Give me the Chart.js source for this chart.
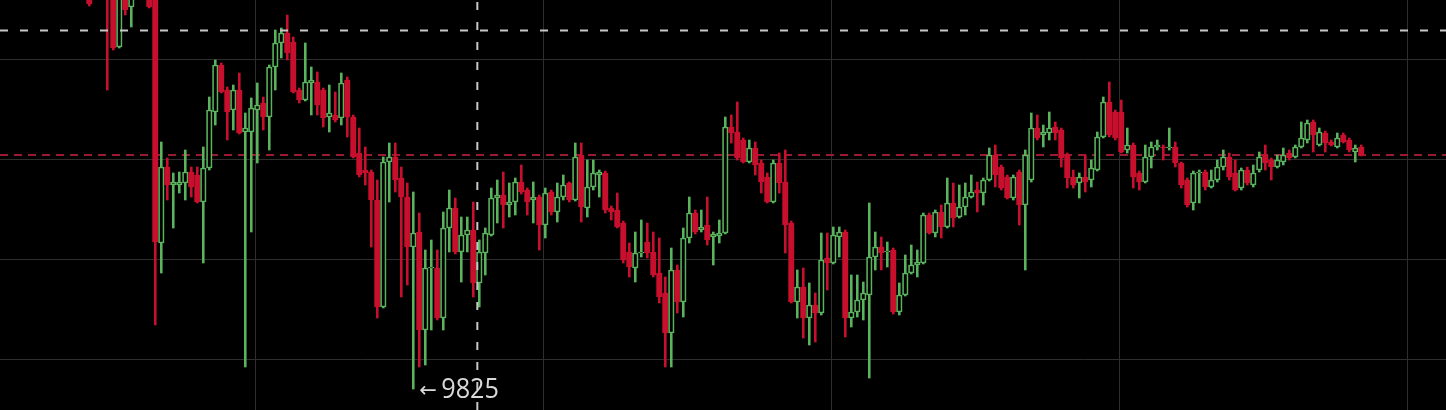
<!DOCTYPE html>
<html><head><meta charset="utf-8">
<script src="https://cdn.jsdelivr.net/npm/chart.js@4/dist/chart.umd.min.js"></script>
<style>html,body{margin:0;padding:0;background:#000;overflow:hidden}#wrap{width:1446px;height:410px;position:relative}</style>
</head><body><div id="wrap"><canvas id="c"></canvas></div>
<script>
const opens=[
10049.5,10039.5,10044.5,10034.5,10029.5,9996,10024.5,10016,10029.5,10021,
10032,10024.5,9898,9936,9927,9927,9928,9933.5,9932,9918.5,
9935.5,9963.5,9987,9974.5,9964.5,9974.5,9953.5,9953.5,9964.5,9968,
9961,9986,9998,10003,9998.5,9974.5,9969.5,9978,9978.5,9974.5,
9961,9962,9960.5,9979.5,9961,9943,9934.5,9933.5,9919.5,9866,
9938.5,9941,9930.5,9921,9896,9903.5,9854.5,9885.5,9885.5,9860.5,
9905.5,9915.5,9893.5,9902,9904.5,9878,9893,9902,9920.5,9922,
9917,9918.5,9928.5,9924.5,9919.5,9921,9907,9923.5,9913.5,9921,
9928,9919.5,9942,9915.5,9926,9932,9933,9915.5,9914.5,9908,
9893.5,9885.5,9893,9898.5,9893.5,9883,9873,9853,9884.5,9868.5,
9900.5,9913,9904.5,9907,9901,9901.5,9903,9956,9953.5,9949.5,
9938.5,9945.5,9938,9931,9918.5,9938,9928.5,9908,9868.5,9876,
9860.5,9867,9863,9890.5,9888,9901,9903.5,9860.5,9863.5,9869.5,
9872,9891,9896,9893.5,9894.5,9863.5,9872,9883,9887,9888,
9912,9903,9913.5,9906,9918,9911,9916,9921,9924.5,9923,
9929.5,9942,9936,9931,9920.5,9933.5,9917,9929.5,9955.5,9952,
9953,9956,9954.5,9942,9931,9928,9931,9929.5,9934.5,9951,
9968.5,9963.5,9963.5,9944.5,9947,9933,9928.5,9941,9946,9946,
9945.5,9946,9938,9929.5,9918,9933,9933.5,9926,9929.5,9936,
9941,9933,9925.5,9934.5,9927,9934.5,9942,9939.5,9936,9938.5,
9943,9941,9946,9949.5,9958.5,9947,9953,9948.5,9946,9952,
9949.5,9943.5,9946];
const closes=[
10017.5,10054.5,10029.5,10020.5,9995.5,10024.5,10014.5,10029.5,10022,10032,
10016,9898.5,9936,9927,9928.5,9928.5,9933.5,9926,9918.5,9935.5,
9964.5,9987,9973.5,9963.5,9974.5,9953,9955.5,9965.5,9967,9961,
9986,9998,10003,9993,9973.5,9969.5,9978.5,9979.5,9967,9960.5,
9963,9959.5,9978,9961,9941,9932,9933,9919.5,9866,9938.5,
9941,9929.5,9921,9896,9903,9854.5,9885.5,9886,9860.5,9905.5,
9915.5,9893.5,9902,9904.5,9878,9893.5,9903,9920.5,9922,9917,
9918.5,9928.5,9923.5,9918.5,9921,9907,9923,9913.5,9921,9927,
9919.5,9941,9916,9926,9933,9933.5,9914.5,9913.5,9906,9889.5,
9886,9893,9893.5,9893,9882,9871,9853,9884.5,9868.5,9900.5,
9913,9903.5,9906,9899.5,9902.5,9903,9956,9953,9940.5,9938.5,
9945.5,9937,9928.5,9918.5,9938,9928,9907,9868.5,9876,9860.5,
9867,9863,9889.5,9888,9902,9903.5,9860.5,9863.5,9869.5,9873,
9891,9896,9893,9894,9863.5,9872,9883,9887,9888.5,9912,
9903,9913.5,9906,9918,9910.5,9916,9921,9923.5,9923,9929.5,
9942,9932,9925.5,9920.5,9931,9917,9942,9955.5,9950.5,9953.5,
9955.5,9953,9940.5,9930.5,9927,9931,9928.5,9935.5,9951,9968.5,
9952,9950.5,9943.5,9947,9931,9928.5,9941,9946,9947,9945.5,
9946,9938,9927,9917,9933,9933.5,9926,9929.5,9936,9941,
9931,9924.5,9934.5,9928,9933,9941,9938,9936,9939.5,9942,
9940.5,9946,9950.5,9958,9952,9953.5,9948,9947,9950.5,9948.5,
9944.5,9945.5,9942];
const highs=[
10054.5,10059.5,10049.5,10039.5,10034.5,10029.5,10029.5,10034.5,10034.5,10037,
10037,10029.5,9948.5,9940.5,9933,9933.5,9944.5,9936,9936,9946,
9971,9989.5,9988,9976,9977,9983,9963,9970.5,9978,9971,
9987,10004.5,10005.5,10012,10001,9975.5,9998,9986,9983.5,9975.5,
9977,9973.5,9983,9981,9962,9955.5,9946,9934.5,9929.5,9941,
9948,9948,9936,9928,9923.5,9913,9894.5,9899.5,9894.5,9913.5,
9924.5,9920.5,9911,9911,9918.5,9899.5,9905.5,9925.5,9929.5,9933.5,
9928,9930.5,9937,9925.5,9928.5,9922,9925.5,9924.5,9928,9932,
9928.5,9948,9948,9939.5,9939.5,9934.5,9934,9916.5,9923,9909,
9898,9903.5,9909.5,9908,9903.5,9900.5,9881,9895.5,9887,9905.5,
9921,9914.5,9914.5,9921,9903.5,9909.5,9961,9962,9968.5,9950.5,
9949.5,9948.5,9939.5,9933,9939.5,9943,9944.5,9909,9884.5,9885.5,
9878,9873,9903,9903,9906,9906,9904.5,9882,9882,9878.5,
9918,9903.5,9901,9898.5,9895.5,9878,9892,9897,9894.5,9913,
9913,9914.5,9917,9930.5,9928,9927,9928,9932,9928.5,9930.5,
9945.5,9947,9937,9932,9932,9934.5,9944.5,9963,9962,9957,
9963.5,9958.5,9955.5,9943,9934.5,9933,9942,9939.5,9953.5,9971,
9978.5,9964.5,9969.5,9955.5,9948,9934,9947,9948.5,9949.5,9947,
9955.5,9948.5,9938.5,9930.5,9934,9934.5,9934.5,9934.5,9939.5,9944.5,
9943,9939.5,9935.5,9936,9937,9943.5,9947,9940.5,9942,9945.5,
9944.5,9947,9958.5,9959.5,9959.5,9955.5,9954,9949.5,9953,9953,
9950.5,9947,9947];
const lows=[
10016.5,10034.5,10024.5,9974.5,9994.5,9995.5,10012,10006,10020.5,10020.5,
10015.5,9857,9883,9919.5,9905.5,9923,9919.5,9921,9918,9888,
9934.5,9957,9973,9949.5,9954.5,9952.5,9836,9903.5,9938,9954.5,
9944.5,9974.5,9990.5,9989.5,9973,9968,9969,9962,9962,9956,
9953.5,9958.5,9957,9951,9940.5,9931,9927,9896,9860.5,9865.5,
9918.5,9923.5,9871,9877,9825,9836,9837,9854.5,9859.5,9854.5,
9893.5,9892.5,9878.5,9893.5,9871,9866,9882,9901.5,9908,9905.5,
9911,9912,9922.5,9912,9908,9894.5,9900.5,9912,9908.5,9919.5,
9918.5,9919,9908.5,9911,9924.5,9921,9913,9909.5,9905.5,9888,
9881,9878.5,9891,9890.5,9881,9868,9836,9836,9863,9861,
9898,9902.5,9903.5,9897,9887,9898,9902.5,9948,9939.5,9938,
9938,9932,9923,9918,9918,9923,9893,9868,9860.5,9850.5,
9847,9848.5,9862,9874.5,9887.5,9891,9851,9856,9861,9859.5,
9830.5,9884.5,9884.5,9886,9862.5,9862,9871.5,9882.5,9881,9887.5,
9902.5,9901,9900.5,9905.5,9906,9910.5,9912,9920.5,9913.5,9917,
9929,9926,9924.5,9920,9919.5,9907,9884.5,9928.5,9949.5,9946,
9949.5,9949.5,9936,9925.5,9925.5,9920.5,9923.5,9926,9934,9950.5,
9951,9949.5,9943,9943,9925.5,9924.5,9928,9935.5,9944.5,9939.5,
9944.5,9936,9925.5,9916,9914.5,9918,9924.5,9925.5,9928.5,9934.5,
9929.5,9924,9924.5,9927,9926,9933.5,9934.5,9929.5,9935.5,9937,
9939.5,9940.5,9945.5,9948,9943.5,9946.5,9943.5,9946.5,9945.5,9948,
9943.5,9938.5,9941.5];
const gridPrices=[9840,9890,9940,9990];
const gridBars=[27.62,75.62,123.62,171.62,219.62];
const lastPrice=9942;
const crossPrice=10004.2;
const crossBar=64.67;

const X_MIN=-14.883, X_MAX=226.117, Y_MIN=9814.5, Y_MAX=10019.5;
const GREEN='#5ab45e', RED='#c8102e', GRID='#2e2e2e';
const isUp=i=>closes[i]>=opens[i];
const idx=opens.map((_,i)=>i);

const lowLabel={id:'lowLabel',afterDatasetsDraw(chart){
  const {ctx,scales:{x,y}}=chart;
  let mi=0; lows.forEach((v,i)=>{if(v<lows[mi])mi=i;});
  const px=x.getPixelForValue(mi), py=y.getPixelForValue(lows[mi]);
  ctx.save();
  ctx.fillStyle='#d9d9d9';
  ctx.textBaseline='middle';
  ctx.font='21px "DejaVu Sans", sans-serif';
  ctx.fillText('\u2190', px+6, py+3);
  ctx.translate(px+28, py+1);
  ctx.scale(0.9,1);
  ctx.font='28px "Open Sans", "DejaVu Sans", sans-serif';
  ctx.fillText(String(Math.round(lows[mi])), 0, 0);
  ctx.restore();
}};

new Chart(document.getElementById('c'),{
  type:'bar',
  data:{datasets:[
    {type:'line',data:[{x:X_MIN,y:lastPrice},{x:X_MAX,y:lastPrice}],borderColor:'rgba(160,30,52,0.95)',borderWidth:2,borderDash:[8,6],pointRadius:0,order:3},
    {type:'bar',data:idx.map(i=>({x:i,y:[lows[i],highs[i]]})),backgroundColor:c=>isUp(c.dataIndex)?GREEN:RED,borderWidth:0,barThickness:1.9,grouped:false,order:2},
    {type:'bar',data:idx.map(i=>({x:i,y:[opens[i],closes[i]]})),backgroundColor:c=>isUp(c.dataIndex)?'#000':RED,borderColor:c=>isUp(c.dataIndex)?GREEN:RED,borderWidth:1.7,borderSkipped:false,barThickness:5.6,grouped:false,order:1},
    {type:'line',data:[{x:X_MIN,y:crossPrice},{x:X_MAX,y:crossPrice}],borderColor:'#c8c8c8',borderWidth:2,borderDash:[8,12],pointRadius:0,order:0},
    {type:'line',data:[{x:crossBar,y:Y_MIN},{x:crossBar,y:Y_MAX}],borderColor:'#c8c8c8',borderWidth:2,borderDash:[8,12],pointRadius:0,order:0}
  ]},
  options:{
    responsive:true,maintainAspectRatio:false,animation:false,events:[],
    layout:{padding:0},
    plugins:{legend:{display:false},tooltip:{enabled:false}},
    scales:{
      x:{type:'linear',min:X_MIN,max:X_MAX,offset:false,
         grid:{color:GRID,lineWidth:1,drawTicks:false,offset:false},
         border:{display:false},ticks:{display:false},
         afterBuildTicks:a=>{a.ticks=gridBars.map(v=>({value:v}));}},
      y:{type:'linear',min:Y_MIN,max:Y_MAX,
         grid:{color:GRID,lineWidth:1,drawTicks:false},
         border:{display:false},ticks:{display:false},
         afterBuildTicks:a=>{a.ticks=gridPrices.map(v=>({value:v}));}}
    }
  },
  plugins:[lowLabel]
});
</script></body></html>
